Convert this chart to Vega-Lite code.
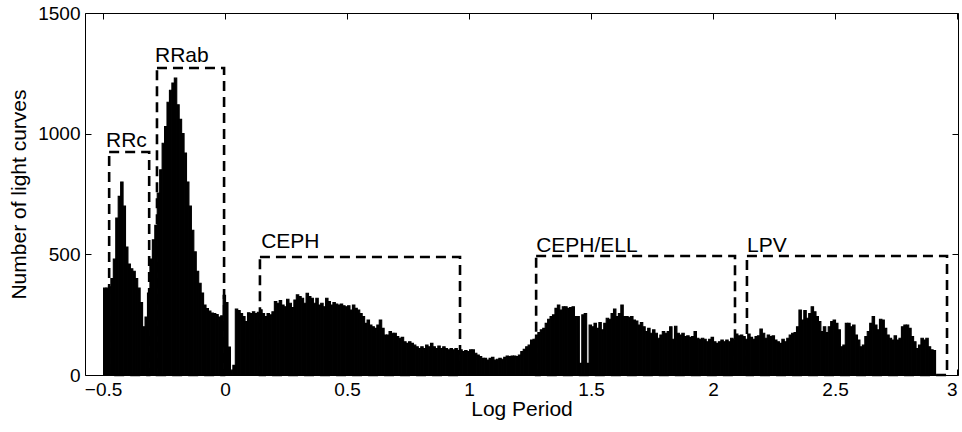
{
  "$schema": "https://vega.github.io/schema/vega-lite/v6.json",
  "autosize": "none",
  "width": 873,
  "height": 362,
  "padding": {"left": 85, "top": 13, "right": 4, "bottom": 57},
  "background": "white",
  "config": {
    "view": {"stroke": "black", "strokeWidth": 1},
    "axis": {
      "domain": false, "grid": false, "tickColor": "black", "tickSize": -6, "tickWidth": 1,
      "labelFont": "Liberation Sans", "labelFontSize": 19, "labelColor": "black",
      "titleFont": "Liberation Sans", "titleFontSize": 21, "titleFontWeight": "normal", "titleColor": "black"
    }
  },
  "resolve": {"axis": {"x": "independent", "y": "independent"}},
  "layer": [
    {
      "data": {"values": [
        {"v":-0.495,"n":360},{"v":-0.485,"n":360},{"v":-0.475,"n":365},{"v":-0.465,"n":400},{"v":-0.455,"n":480},{"v":-0.445,"n":650},{"v":-0.435,"n":740},{"v":-0.425,"n":800},{"v":-0.415,"n":700},{"v":-0.405,"n":530},
        {"v":-0.395,"n":460},{"v":-0.385,"n":440},{"v":-0.375,"n":430},{"v":-0.365,"n":400},{"v":-0.355,"n":360},{"v":-0.345,"n":300},{"v":-0.335,"n":200},{"v":-0.325,"n":240},{"v":-0.315,"n":340},{"v":-0.305,"n":480},
        {"v":-0.295,"n":560},{"v":-0.285,"n":620},{"v":-0.275,"n":754},{"v":-0.265,"n":850},{"v":-0.255,"n":960},{"v":-0.245,"n":1030},{"v":-0.235,"n":1130},{"v":-0.225,"n":1180},{"v":-0.215,"n":1210},{"v":-0.205,"n":1230},
        {"v":-0.195,"n":1120},{"v":-0.185,"n":1060},{"v":-0.175,"n":1000},{"v":-0.165,"n":920},{"v":-0.155,"n":800},{"v":-0.145,"n":700},{"v":-0.135,"n":600},{"v":-0.125,"n":510},{"v":-0.115,"n":430},{"v":-0.105,"n":380},
        {"v":-0.095,"n":340},{"v":-0.085,"n":290},{"v":-0.075,"n":275},{"v":-0.065,"n":265},{"v":-0.055,"n":257},{"v":-0.045,"n":255},{"v":-0.035,"n":250},{"v":-0.025,"n":240},{"v":-0.015,"n":245},{"v":-0.005,"n":330},
        {"v":0.005,"n":300},{"v":0.015,"n":116},{"v":0.025,"n":20},{"v":0.035,"n":40},{"v":0.045,"n":273},{"v":0.055,"n":267},{"v":0.065,"n":255},{"v":0.075,"n":242},{"v":0.085,"n":221},{"v":0.095,"n":258},
        {"v":0.105,"n":255},{"v":0.115,"n":262},{"v":0.125,"n":255},{"v":0.135,"n":260},{"v":0.145,"n":270},{"v":0.155,"n":255},{"v":0.165,"n":242},{"v":0.175,"n":255},{"v":0.185,"n":249},{"v":0.195,"n":262},
        {"v":0.205,"n":304},{"v":0.215,"n":297},{"v":0.225,"n":308},{"v":0.235,"n":290},{"v":0.245,"n":283},{"v":0.255,"n":314},{"v":0.265,"n":297},{"v":0.275,"n":280},{"v":0.285,"n":311},{"v":0.295,"n":332},
        {"v":0.305,"n":325},{"v":0.315,"n":318},{"v":0.325,"n":297},{"v":0.335,"n":339},{"v":0.345,"n":325},{"v":0.355,"n":318},{"v":0.365,"n":297},{"v":0.375,"n":318},{"v":0.385,"n":290},{"v":0.395,"n":297},
        {"v":0.405,"n":283},{"v":0.415,"n":318},{"v":0.425,"n":304},{"v":0.435,"n":290},{"v":0.445,"n":300},{"v":0.455,"n":294},{"v":0.465,"n":290},{"v":0.475,"n":294},{"v":0.485,"n":287},{"v":0.495,"n":283},
        {"v":0.505,"n":287},{"v":0.515,"n":269},{"v":0.525,"n":290},{"v":0.535,"n":276},{"v":0.545,"n":269},{"v":0.555,"n":255},{"v":0.565,"n":242},{"v":0.575,"n":214},{"v":0.585,"n":228},{"v":0.595,"n":207},
        {"v":0.605,"n":200},{"v":0.615,"n":193},{"v":0.625,"n":207},{"v":0.635,"n":228},{"v":0.645,"n":193},{"v":0.655,"n":166},{"v":0.665,"n":166},{"v":0.675,"n":180},{"v":0.685,"n":173},{"v":0.695,"n":173},
        {"v":0.705,"n":159},{"v":0.715,"n":152},{"v":0.725,"n":156},{"v":0.735,"n":138},{"v":0.745,"n":131},{"v":0.755,"n":138},{"v":0.765,"n":131},{"v":0.775,"n":124},{"v":0.785,"n":117},{"v":0.795,"n":110},
        {"v":0.805,"n":117},{"v":0.815,"n":110},{"v":0.825,"n":124},{"v":0.835,"n":117},{"v":0.845,"n":131},{"v":0.855,"n":117},{"v":0.865,"n":110},{"v":0.875,"n":120},{"v":0.885,"n":110},{"v":0.895,"n":117},
        {"v":0.905,"n":110},{"v":0.915,"n":104},{"v":0.925,"n":110},{"v":0.935,"n":104},{"v":0.945,"n":110},{"v":0.955,"n":101},{"v":0.965,"n":104},{"v":0.975,"n":97},{"v":0.985,"n":101},{"v":0.995,"n":97},
        {"v":1.005,"n":104},{"v":1.015,"n":104},{"v":1.025,"n":90},{"v":1.035,"n":83},{"v":1.045,"n":76},{"v":1.055,"n":69},{"v":1.065,"n":69},{"v":1.075,"n":62},{"v":1.085,"n":69},{"v":1.095,"n":73},
        {"v":1.105,"n":62},{"v":1.115,"n":65},{"v":1.125,"n":69},{"v":1.135,"n":65},{"v":1.145,"n":73},{"v":1.155,"n":79},{"v":1.165,"n":76},{"v":1.175,"n":79},{"v":1.185,"n":79},{"v":1.195,"n":76},
        {"v":1.205,"n":83},{"v":1.215,"n":97},{"v":1.225,"n":107},{"v":1.235,"n":117},{"v":1.245,"n":124},{"v":1.255,"n":145},{"v":1.265,"n":148},{"v":1.275,"n":166},{"v":1.285,"n":176},{"v":1.295,"n":187},
        {"v":1.305,"n":193},{"v":1.315,"n":214},{"v":1.325,"n":231},{"v":1.335,"n":242},{"v":1.345,"n":249},{"v":1.355,"n":276},{"v":1.365,"n":290},{"v":1.375,"n":269},{"v":1.385,"n":283},{"v":1.395,"n":283},
        {"v":1.405,"n":276},{"v":1.415,"n":280},{"v":1.425,"n":283},{"v":1.435,"n":242},{"v":1.445,"n":242},{"v":1.455,"n":48},{"v":1.465,"n":249},{"v":1.475,"n":255},{"v":1.485,"n":48},{"v":1.495,"n":207},
        {"v":1.505,"n":200},{"v":1.515,"n":214},{"v":1.525,"n":193},{"v":1.535,"n":217},{"v":1.545,"n":187},{"v":1.555,"n":214},{"v":1.565,"n":235},{"v":1.575,"n":231},{"v":1.585,"n":255},{"v":1.595,"n":273},
        {"v":1.605,"n":242},{"v":1.615,"n":255},{"v":1.625,"n":290},{"v":1.635,"n":242},{"v":1.645,"n":242},{"v":1.655,"n":239},{"v":1.665,"n":242},{"v":1.675,"n":228},{"v":1.685,"n":224},{"v":1.695,"n":207},
        {"v":1.705,"n":217},{"v":1.715,"n":200},{"v":1.725,"n":180},{"v":1.735,"n":193},{"v":1.745,"n":173},{"v":1.755,"n":187},{"v":1.765,"n":173},{"v":1.775,"n":152},{"v":1.785,"n":166},{"v":1.795,"n":180},
        {"v":1.805,"n":173},{"v":1.815,"n":180},{"v":1.825,"n":200},{"v":1.835,"n":148},{"v":1.845,"n":202},{"v":1.855,"n":173},{"v":1.865,"n":166},{"v":1.875,"n":173},{"v":1.885,"n":159},{"v":1.895,"n":162},
        {"v":1.905,"n":156},{"v":1.915,"n":159},{"v":1.925,"n":180},{"v":1.935,"n":152},{"v":1.945,"n":148},{"v":1.955,"n":152},{"v":1.965,"n":148},{"v":1.975,"n":138},{"v":1.985,"n":148},{"v":1.995,"n":156},
        {"v":2.005,"n":138},{"v":2.015,"n":131},{"v":2.025,"n":138},{"v":2.035,"n":145},{"v":2.045,"n":138},{"v":2.055,"n":145},{"v":2.065,"n":138},{"v":2.075,"n":152},{"v":2.085,"n":148},{"v":2.095,"n":170},
        {"v":2.105,"n":162},{"v":2.115,"n":166},{"v":2.125,"n":159},{"v":2.135,"n":148},{"v":2.145,"n":170},{"v":2.155,"n":156},{"v":2.165,"n":148},{"v":2.175,"n":159},{"v":2.185,"n":162},{"v":2.195,"n":190},
        {"v":2.205,"n":173},{"v":2.215,"n":152},{"v":2.225,"n":166},{"v":2.235,"n":159},{"v":2.245,"n":162},{"v":2.255,"n":145},{"v":2.265,"n":138},{"v":2.275,"n":131},{"v":2.285,"n":148},{"v":2.295,"n":138},
        {"v":2.305,"n":152},{"v":2.315,"n":166},{"v":2.325,"n":173},{"v":2.335,"n":176},{"v":2.345,"n":200},{"v":2.355,"n":269},{"v":2.365,"n":228},{"v":2.375,"n":267},{"v":2.385,"n":235},{"v":2.395,"n":255},
        {"v":2.405,"n":283},{"v":2.415,"n":262},{"v":2.425,"n":242},{"v":2.435,"n":221},{"v":2.445,"n":180},{"v":2.455,"n":200},{"v":2.465,"n":176},{"v":2.475,"n":200},{"v":2.485,"n":221},{"v":2.495,"n":228},
        {"v":2.505,"n":214},{"v":2.515,"n":187},{"v":2.525,"n":117},{"v":2.535,"n":124},{"v":2.545,"n":214},{"v":2.555,"n":214},{"v":2.565,"n":200},{"v":2.575,"n":207},{"v":2.585,"n":166},{"v":2.595,"n":145},
        {"v":2.605,"n":117},{"v":2.615,"n":124},{"v":2.625,"n":159},{"v":2.635,"n":180},{"v":2.645,"n":214},{"v":2.655,"n":242},{"v":2.665,"n":207},{"v":2.675,"n":187},{"v":2.685,"n":231},{"v":2.695,"n":228},
        {"v":2.705,"n":193},{"v":2.715,"n":166},{"v":2.725,"n":152},{"v":2.735,"n":145},{"v":2.745,"n":162},{"v":2.755,"n":145},{"v":2.765,"n":152},{"v":2.775,"n":200},{"v":2.785,"n":207},{"v":2.795,"n":207},
        {"v":2.805,"n":193},{"v":2.815,"n":159},{"v":2.825,"n":138},{"v":2.835,"n":110},{"v":2.845,"n":124},{"v":2.855,"n":152},{"v":2.865,"n":145},{"v":2.875,"n":152},{"v":2.885,"n":117},{"v":2.895,"n":104},{"v":2.905,"n":101}
      ]},
      "mark": {"type": "bar", "color": "black", "binSpacing": 0, "stroke": "black", "strokeWidth": 1.1},
      "encoding": {
        "x": {"field": "v", "type": "quantitative", "bin": {"step": 0.01, "extent": [-0.5, 2.91], "nice": false},
              "scale": {"domain": [-0.574, 3.004], "nice": false, "zero": false},
              "axis": {"orient": "bottom", "values": [-0.5, 0, 0.5, 1, 1.5, 2, 2.5, 3], "format": "~g", "title": "Log Period", "labelPadding": 11, "titlePadding": -1}},
        "y": {"field": "n", "type": "quantitative", "aggregate": "sum",
              "scale": {"domain": [0, 1500], "nice": false},
              "axis": {"orient": "left", "values": [0, 500, 1000, 1500], "format": "d", "title": "Number of light curves", "labelPadding": 11, "titlePadding": 8}}
      }
    },
    {
      "data": {"values": [
        {"name": "RRc", "x1": -0.475, "x2": -0.311, "top": 924},
        {"name": "RRab", "x1": -0.279, "x2": -0.004, "top": 1272},
        {"name": "CEPH", "x1": 0.143, "x2": 0.963, "top": 489},
        {"name": "CEPH/ELL", "x1": 1.275, "x2": 2.09, "top": 493},
        {"name": "LPV", "x1": 2.139, "x2": 2.959, "top": 493}
      ]},
      "mark": {"type": "rect", "fill": null, "fillOpacity": 0, "stroke": "black", "strokeWidth": 2.6, "strokeDash": [10, 6]},
      "encoding": {
        "x": {"field": "x1", "type": "quantitative",
              "axis": {"orient": "top", "values": [-0.5, 0, 0.5, 1, 1.5, 2, 2.5, 3], "labels": false, "title": null}},
        "x2": {"field": "x2"},
        "y": {"field": "top", "type": "quantitative",
              "axis": {"orient": "right", "values": [0, 500, 1000, 1500], "labels": false, "title": null}},
        "y2": {"datum": 0}
      }
    },
    {
      "data": {"values": [
        {"label": "RRc", "tx": -0.488, "ty": 945},
        {"label": "RRab", "tx": -0.287, "ty": 1297},
        {"label": "CEPH", "tx": 0.148, "ty": 526},
        {"label": "CEPH/ELL", "tx": 1.275, "ty": 510},
        {"label": "LPV", "tx": 2.139, "ty": 510}
      ]},
      "mark": {"type": "text", "align": "left", "baseline": "alphabetic", "font": "Liberation Sans", "fontSize": 21, "color": "black"},
      "encoding": {
        "x": {"field": "tx", "type": "quantitative", "axis": null},
        "y": {"field": "ty", "type": "quantitative", "axis": null},
        "text": {"field": "label"}
      }
    }
  ]
}
